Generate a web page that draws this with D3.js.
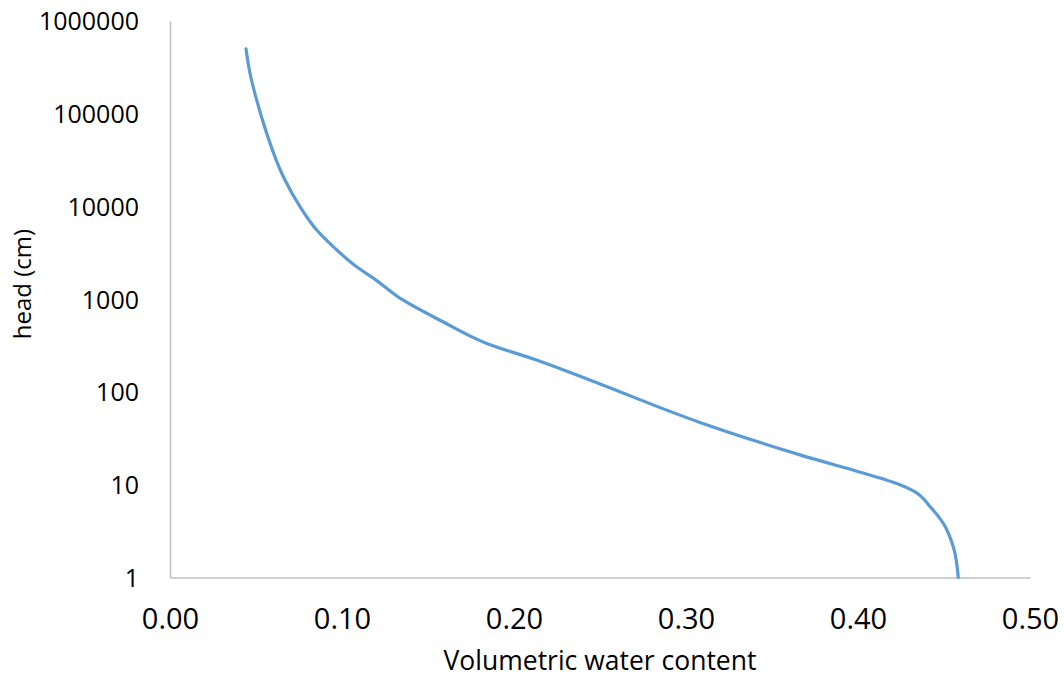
<!DOCTYPE html>
<html>
<head>
<meta charset="utf-8">
<script src="https://cdn.jsdelivr.net/npm/d3@7"></script>
<style>
  html, body { margin: 0; padding: 0; background: #ffffff; }
  svg { display: block; }
  text { font-family: "Open Sans", "DejaVu Sans", sans-serif; fill: #000000; }
</style>
</head>
<body>
<svg id="chart" width="1064" height="678"></svg>
<script>
// Soil water retention curve: volumetric water content vs. pressure head (cm)
const theta = [0.0442, 0.0465, 0.0504, 0.0562, 0.0659, 0.0756, 0.0853, 0.0949, 0.1085,
               0.1182, 0.1356, 0.1570, 0.1841, 0.2151, 0.2500, 0.3081, 0.3663, 0.4128,
               0.4244, 0.4322, 0.4419, 0.4496, 0.4554, 0.4583];
const head  = [500000, 273000, 140000, 61500, 20900, 9950, 5580, 3690, 2240,
               1690, 976, 594, 334, 215, 122, 47, 21, 11.8,
               10.0, 8.6, 5.8, 3.84, 2.15, 1];

const xTicks = [0, 0.1, 0.2, 0.3, 0.4, 0.5];
const yTicks = [1, 10, 100, 1000, 10000, 100000, 1000000];
const xTitle = "Volumetric water content";
const yTitle = "head (cm)";

const svg = d3.select("#chart");
const plotLeft = 170, plotRight = 1030, plotTop = 21, plotBottom = 577.5;

const x = d3.scaleLinear().domain([0, 0.5]).range([plotLeft, plotRight]);
const y = d3.scaleLog().domain([1, 1000000]).range([plotBottom, plotTop]);

// axes (no tick marks, just the axis lines and labels)
const xAxis = d3.axisBottom(x).tickValues(xTicks).tickSize(0).tickPadding(0)
  .tickFormat(d3.format(".2f"));
const yAxis = d3.axisLeft(y).tickValues(yTicks).tickSize(0).tickPadding(0)
  .tickFormat(d3.format("d"));

const gx = svg.append("g").attr("transform", `translate(0,${plotBottom})`).call(xAxis);
gx.select(".domain").attr("stroke", "#bfbfbf").attr("stroke-width", 1.5);
gx.selectAll(".tick text")
  .attr("font-size", 29).attr("dy", null).attr("y", 51.5)
  .style("font-family", "'Open Sans', sans-serif");

const gy = svg.append("g").attr("transform", `translate(${plotLeft},0)`).call(yAxis);
gy.select(".domain").attr("stroke", "#bfbfbf").attr("stroke-width", 1.5);
gy.selectAll(".tick text")
  .attr("font-size", 25).attr("x", -31).attr("dy", "0.35em")
  .style("font-family", "'Open Sans', sans-serif");

// retention curve
const pts = theta.map((t, i) => [t, head[i]]);
const line = d3.line()
  .x(d => x(d[0]))
  .y(d => y(d[1]))
  .curve(d3.curveMonotoneY);

svg.append("path")
  .datum(pts)
  .attr("d", line)
  .attr("fill", "none")
  .attr("stroke", "#5b9bd5")
  .attr("stroke-width", 3.2)
  .attr("stroke-linecap", "round")
  .attr("stroke-linejoin", "round");

// axis titles
svg.append("text")
  .attr("x", (plotLeft + plotRight) / 2).attr("y", 670)
  .attr("text-anchor", "middle")
  .attr("font-size", 26.5)
  .text(xTitle);

svg.append("text")
  .attr("transform", "translate(31,284) rotate(-90)")
  .attr("text-anchor", "middle")
  .attr("font-size", 24)
  .text(yTitle);
</script>
</body>
</html>
